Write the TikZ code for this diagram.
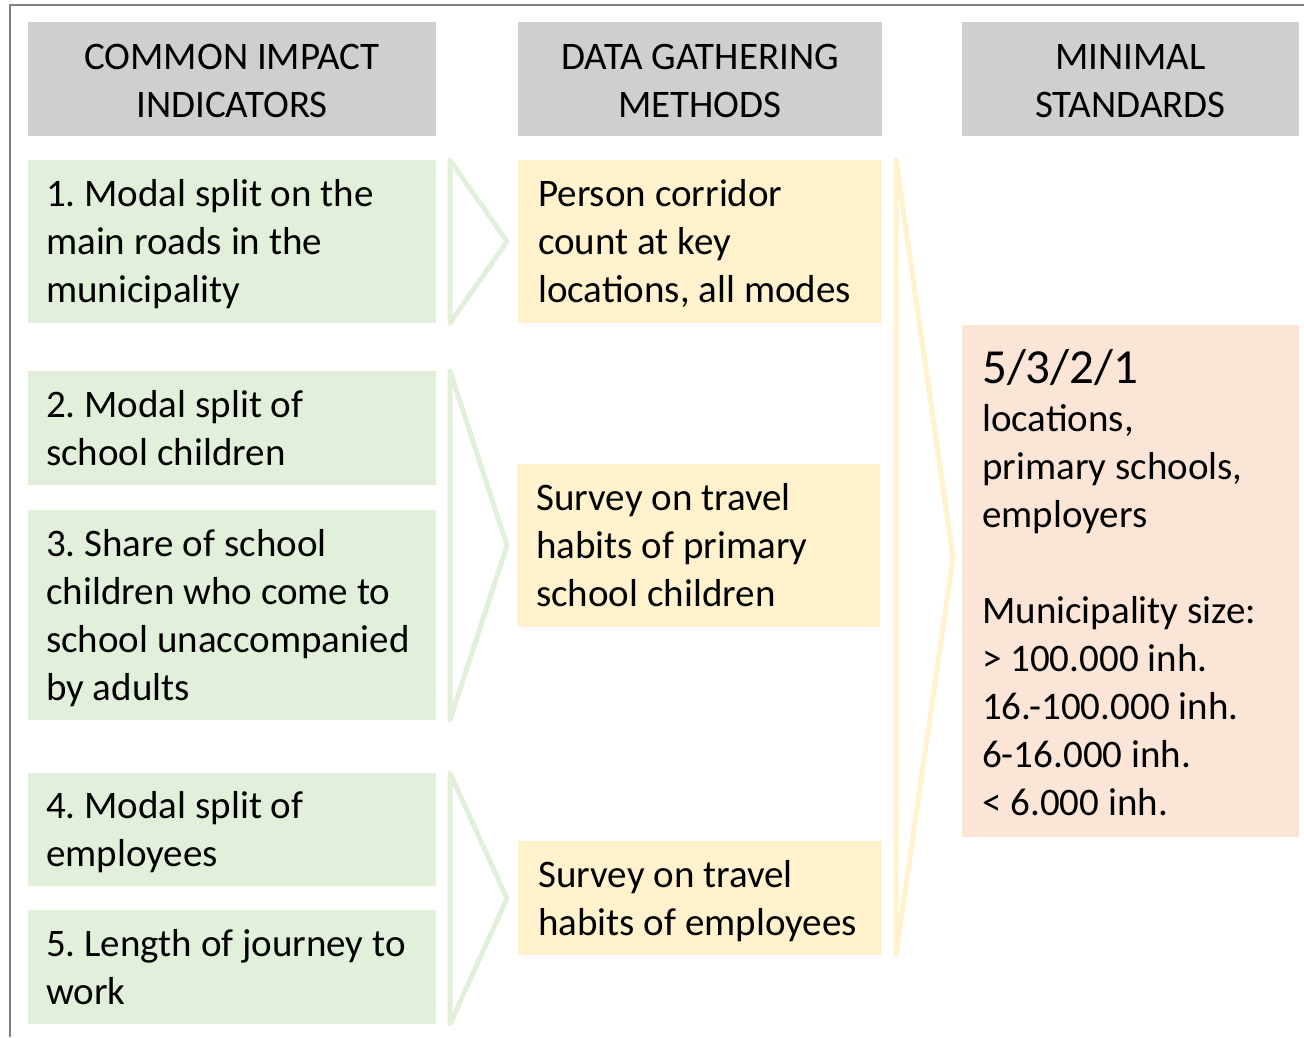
\documentclass[tikz,border=0pt]{standalone}
\usepackage{fontspec}
\setmainfont{Carlito}
\frenchspacing
\usetikzlibrary{fit,calc}
\definecolor{hdrgray}{HTML}{D0CECE}
\definecolor{grn}{HTML}{E2EFDA}
\definecolor{ylw}{HTML}{FFF2CC}
\definecolor{slm}{HTML}{FBE5D6}
\definecolor{framegray}{HTML}{7F7F7F}
\begin{document}
\frenchspacing
\begin{tikzpicture}[x=1pt,y=-1pt,
  panel/.style={inner sep=0pt, outer sep=0pt, draw=none},
  hdrbox/.style={panel, fill=hdrgray},
  grnbox/.style={panel, fill=grn},
  ylwbox/.style={panel, fill=ylw},
  slmbox/.style={panel, fill=slm},
  body/.style={inner sep=0pt, font=\fontsize{39}{48}\selectfont\frenchspacing, text=black,
    execute at begin node=\strut, execute at end node=\strut},
  lefttxt/.style={body, align=left, anchor=west},
  midtxt/.style={body, align=center},
  slmtxt/.style={inner sep=0pt, font=\fontsize{39}{48}\selectfont\frenchspacing, text=black, align=left, anchor=north west},
  gchev/.style={draw=grn, line width=5pt, line join=round},
  ychev/.style={draw=ylw, line width=5pt, line join=round}]
\useasboundingbox (0,0) rectangle (1304,1037);
% frame
\coordinate (fb) at (10,1037);
\coordinate (fc) at (10,5);
\coordinate (fr) at (1304,5);
\draw[framegray, line width=2pt] (fb) -- (fc) -- (fr);

% headers
\node[hdrbox, fit={(28,22) (436,136)}] (h1) {};
\node[hdrbox, fit={(518,22) (882,136)}] (h2) {};
\node[hdrbox, fit={(962,22) (1299,136)}] (h3) {};
\node[midtxt] (h1t) at ($(h1.center)+(0,9)$) {COMMON IMPACT\\INDICATORS};
\node[midtxt] (h2t) at ($(h2.center)+(0,9)$) {DATA GATHERING\\METHODS};
\node[midtxt] (h3t) at ($(h3.center)+(0,9)$) {MINIMAL\\STANDARDS};

% green indicator boxes
\node[grnbox, fit={(28,160) (436,323)}] (g1) {};
\node[grnbox, fit={(28,371) (436,485)}] (g2) {};
\node[grnbox, fit={(28,510) (436,720)}] (g3) {};
\node[grnbox, fit={(28,773) (436,886)}] (g4) {};
\node[grnbox, fit={(28,910) (436,1024)}] (g5) {};
\node[lefttxt] (g1t) at ($(g1.west)+(18,7)$) {1. Modal split on the\\main roads in the\\municipality};
\node[lefttxt] (g2t) at ($(g2.west)+(18,7)$) {2. Modal split of\\school children};
\node[lefttxt] (g3t) at ($(g3.west)+(18,7)$) {3. Share of school\\children who come to\\school unaccompanied\\by adults};
\node[lefttxt] (g4t) at ($(g4.west)+(18,7)$) {4. Modal split of\\employees};
\node[lefttxt] (g5t) at ($(g5.west)+(18,7)$) {5. Length of journey to\\work};

% yellow method boxes
\node[ylwbox, fit={(518,160) (882,323)}] (y1) {};
\node[ylwbox, fit={(517,464) (880,627)}] (y2) {};
\node[ylwbox, fit={(518,841) (882,955)}] (y3) {};
\node[lefttxt] (y1t) at ($(y1.west)+(20,7)$) {Person corridor\\count at key\\locations, all modes};
\node[lefttxt] (y2t) at ($(y2.west)+(19,7)$) {Survey on travel\\habits of primary\\school children};
\node[lefttxt] (y3t) at ($(y3.west)+(20,7)$) {Survey on travel\\habits of employees};

% salmon standards box
\node[slmbox, fit={(962,325) (1299,837)}] (s1) {};
\node[slmtxt] (s1t) at (982,343) {{\fontsize{49}{48}\selectfont\rule{0pt}{40pt}5/3/2/1}\\locations,\\primary schools,\\employers\\[48pt]Municipality size:\\> 100.000 inh.\\16.-100.000 inh.\\6-16.000 inh.\\< 6.000 inh.};

% green chevrons
\coordinate (c1t) at ($(g1.north east)+(14,0)$);
\coordinate (c1b) at ($(g1.south east)+(14,0)$);
\coordinate (c1p) at ($(c1t)!0.5!(c1b)+(57,0)$);
\draw[gchev] (c1t) -- (c1p) -- (c1b) -- cycle;
\coordinate (c2t) at ($(g2.north east)+(14,0)$);
\coordinate (c2b) at ($(g3.south east)+(14,0)$);
\coordinate (c2p) at ($(c2t)!0.5!(c2b)+(57,0)$);
\draw[gchev] (c2t) -- (c2p) -- (c2b) -- cycle;
\coordinate (c3t) at ($(g4.north east)+(14,0)$);
\coordinate (c3b) at ($(g5.south east)+(14,0)$);
\coordinate (c3p) at ($(c3t)!0.5!(c3b)+(57,0)$);
\draw[gchev] (c3t) -- (c3p) -- (c3b) -- cycle;

% yellow chevron
\coordinate (c4t) at ($(y1.north east)+(14,0)$);
\coordinate (c4b) at ($(y3.south east)+(14,0)$);
\coordinate (c4p) at ($(c4t)!0.5!(c4b)+(57,0)$);
\draw[ychev] (c4t) -- (c4p) -- (c4b) -- cycle;
\end{tikzpicture}
\end{document}
